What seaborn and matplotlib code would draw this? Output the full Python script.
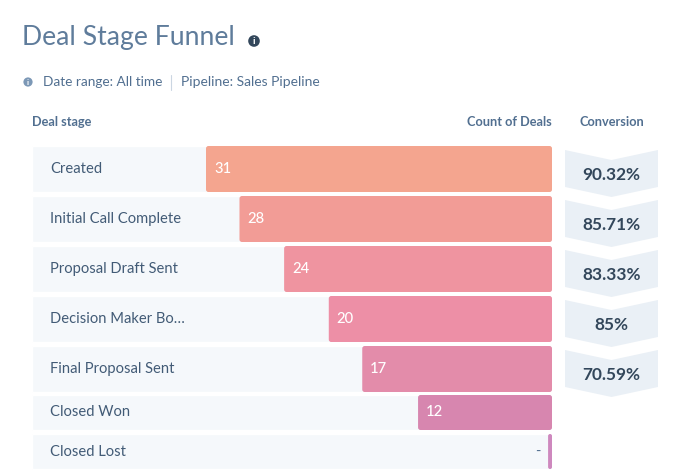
import matplotlib
matplotlib.use("Agg")
import matplotlib.pyplot as plt
from matplotlib.patches import FancyBboxPatch, Polygon, Circle
import pandas as pd
import seaborn as sns

stages_top = ["Created", "Initial Call Complete", "Proposal Draft Sent", "Decision Maker Bo…", "Final Proposal Sent"]
counts_top = [31, 28, 24, 20, 17]
colors_top = ["#F4A58F", "#F29C96", "#EF94A0", "#ED8FA6", "#E38CAA"]
stages_bottom = ["Closed Won", "Closed Lost"]
counts_bottom = [12, 0.35]
count_labels_bottom = ["12", "-"]
colors_bottom = ["#D786AF", "#CE88BE"]
conversions = ["90.32%", "85.71%", "83.33%", "85%", "70.59%"]

W, H = 694, 475
sns.set_theme(style="white")
plt.rcParams["font.family"] = ["Lato", "DejaVu Sans"]
fig = plt.figure(figsize=(W / 100, H / 100), dpi=100, facecolor="white")

SLATE = "#516F90"
DARK = "#33475B"
LABEL = "#425B76"
ROW_BG = "#F5F8FB"
CHEVRON = "#EAF0F6"
SCALE = 346 / 31  # px per deal
X_LEFT, X_RIGHT = 32, 552
XMAX = (X_RIGHT - X_LEFT) / SCALE


def px_axes(left, top, right, bottom, z=2):
    return fig.add_axes([left / W, 1 - bottom / H, (right - left) / W, (bottom - top) / H], zorder=z)


# Overlay in pixel units for headings and chevrons
bg = px_axes(0, 0, W, H, z=1)
bg.set_xlim(0, W)
bg.set_ylim(H, 0)
bg.axis("off")

bg.text(22, 38, "Deal Stage Funnel", fontsize=19.2, color="#5F7C9B", va="center", ha="left", fontweight="normal")


def info(x, y, r, color, fs):
    bg.add_patch(Circle((x, y), r, color=color, lw=0))
    bg.text(x, y + 0.3, "i", color="white", fontsize=fs, fontweight="bold", ha="center", va="center")


info(254, 41, 5.8, DARK, 7.5)
info(28, 82, 4.6, "#7C98B6", 6)
bg.text(43, 82, "Date range: All time", fontsize=9.8, color=SLATE, va="center", ha="left")
bg.plot([171, 171], [75, 90], color="#CBD6E2", lw=0.8)
bg.text(181, 82, "Pipeline: Sales Pipeline", fontsize=10, color=SLATE, va="center", ha="left")
bg.text(32, 122, "Deal stage", fontsize=9.2, color=SLATE, fontweight="bold", va="center", ha="left")
bg.text(552, 122, "Count of Deals", fontsize=9.2, color=SLATE, fontweight="bold", va="center", ha="right")
bg.text(611.5, 122, "Conversion", fontsize=9.2, color=SLATE, fontweight="bold", va="center", ha="center")

for i, label in enumerate(conversions):
    t = 150 + 50 * i
    pts = [(565, t), (611.5, t + 10), (658, t), (658, t + 37), (611.5, t + 47), (565, t + 37)]
    bg.add_patch(Polygon(pts, closed=True, facecolor=CHEVRON, edgecolor="none"))
    bg.text(611.5, t + 25, label, fontsize=12.4, fontweight="bold", color=DARK, ha="center", va="center")


def funnel(ax, stages, counts, labels, colors, width, px_per_row):
    df = pd.DataFrame({"stage": stages, "count": counts, "full": [XMAX] * len(stages)})
    sns.barplot(data=df, x="full", y="stage", order=stages, color=ROW_BG, width=width,
                saturation=1, ax=ax, zorder=1)
    n_bg = len(ax.patches)
    sns.barplot(data=df, x="count", y="stage", hue="stage", order=stages, hue_order=stages,
                palette=colors, width=width, saturation=1, legend=False, dodge=False, ax=ax, zorder=2)
    ax.set_xlim(XMAX, 0)
    ax.set_ylim(len(stages) - 0.5, -0.5)
    ax.axis("off")
    aspect = (1 / px_per_row) / (1 / SCALE)
    for patch in list(ax.patches)[n_bg:]:
        x0, y0, w, h = patch.get_x(), patch.get_y(), patch.get_width(), patch.get_height()
        if w == 0:
            patch.remove()
            continue
        patch.set_visible(False)
        r = min(2.5, abs(w) * SCALE / 2) / SCALE
        ax.add_patch(FancyBboxPatch((min(x0, x0 + w), y0), abs(w), h,
                                    boxstyle=f"round,pad=0,rounding_size={r}",
                                    mutation_aspect=aspect, facecolor=patch.get_facecolor(),
                                    edgecolor="none", zorder=3))
    for i, (stage, c, lab) in enumerate(zip(stages, counts, labels)):
        ax.annotate(stage, xy=(XMAX, i), xytext=(18 * 0.72, 0), textcoords="offset points",
                    fontsize=10.6, color=LABEL, va="center", ha="left", zorder=4)
        if lab == "-":
            ax.annotate(lab, xy=(0, i), xytext=(-11 * 0.72, 0), textcoords="offset points",
                        fontsize=10.6, color=SLATE, va="center", ha="right", zorder=4)
        else:
            ax.annotate(lab, xy=(c, i), xytext=(8 * 0.72, 0), textcoords="offset points",
                        fontsize=10.6, color="white", fontweight="medium", va="center", ha="left", zorder=4)


ax_top = px_axes(X_LEFT, 144, X_RIGHT, 394)
funnel(ax_top, stages_top, counts_top, [str(c) for c in counts_top], colors_top, 46 / 50, 50)
ax_bottom = px_axes(X_LEFT, 393, X_RIGHT, 471)
funnel(ax_bottom, stages_bottom, counts_bottom, count_labels_bottom, colors_bottom, 35 / 39, 39)

fig.savefig("out.png", dpi=100)
